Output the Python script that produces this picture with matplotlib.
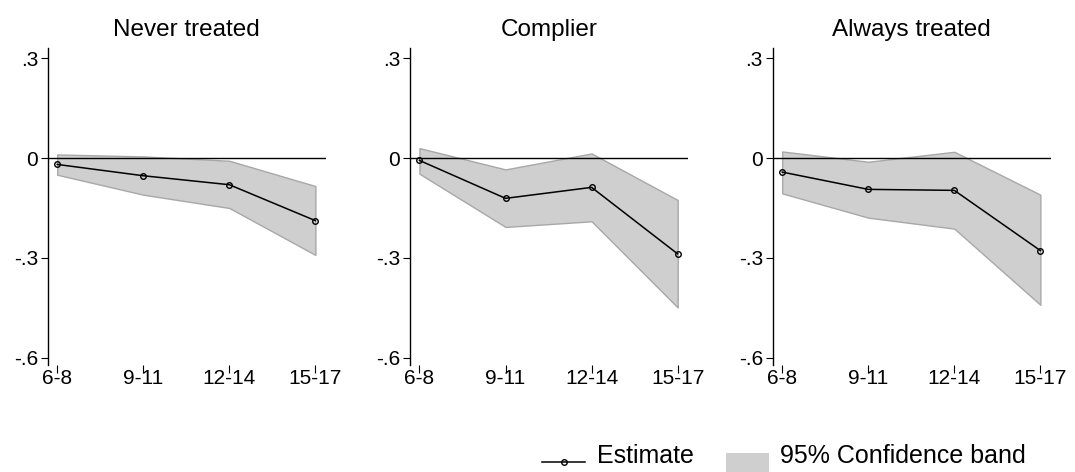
import numpy as np
import matplotlib
matplotlib.use('Agg')
import matplotlib.pyplot as plt
from matplotlib.lines import Line2D
from matplotlib.patches import Patch
from matplotlib.legend_handler import HandlerLine2D, HandlerPatch

plt.rcParams['font.family'] = ['Liberation Sans', 'DejaVu Sans']

age_groups = ['6-8', '9-11', '12-14', '15-17']
panel_titles = ['Never treated', 'Complier', 'Always treated']

never_est = [-0.019, -0.053, -0.080, -0.188]
never_hi = [0.011, 0.005, -0.008, -0.084]
never_lo = [-0.050, -0.110, -0.150, -0.291]

complier_est = [-0.007, -0.121, -0.088, -0.288]
complier_hi = [0.030, -0.034, 0.014, -0.126]
complier_lo = [-0.047, -0.207, -0.190, -0.449]

always_est = [-0.042, -0.094, -0.097, -0.278]
always_hi = [0.020, -0.011, 0.019, -0.110]
always_lo = [-0.106, -0.179, -0.212, -0.441]

panels = [
    (never_est, never_lo, never_hi),
    (complier_est, complier_lo, complier_hi),
    (always_est, always_lo, always_hi),
]


# legend keys sit lower than the text centre, like Stata's
class LowLine(HandlerLine2D):
    def create_artists(self, legend, orig_handle, xdescent, ydescent, width, height, fontsize, trans):
        s = 6.4
        return super().create_artists(legend, orig_handle, xdescent, ydescent + s,
                                      width, height - s, fontsize, trans)


class LowPatch(HandlerPatch):
    def create_artists(self, legend, orig_handle, xdescent, ydescent, width, height, fontsize, trans):
        return super().create_artists(legend, orig_handle, xdescent, ydescent + 7.2,
                                      width, height, fontsize, trans)


fig = plt.figure(figsize=(10.75, 4.72), dpi=100)
lefts = [0.0444, 0.3814, 0.7188]
x = np.arange(len(age_groups))

for left, title, (est, lo, hi) in zip(lefts, panel_titles, panels):
    ax = fig.add_axes([left, 0.2267, 0.2586, 0.6716])
    ax.fill_between(x, lo, hi, facecolor='#cfcfcf', edgecolor='#a8a8a8', linewidth=1.0, zorder=1)
    ax.axhline(0, color='black', linewidth=1.0, zorder=2)
    ax.plot(x, est, color='black', linewidth=1.1, marker='o', markersize=4,
            markerfacecolor='none', markeredgecolor='black', markeredgewidth=1.0, zorder=3)
    ax.set_xlim(-0.11, 3.12)
    ax.set_ylim(-0.622, 0.331)
    ax.set_yticks([0.3, 0, -0.3, -0.6])
    ax.set_yticklabels(['.3', '0', '-.3', '-.6'])
    ax.set_xticks(x)
    ax.set_xticklabels(age_groups)
    for s in ['top', 'right', 'bottom']:
        ax.spines[s].set_visible(False)
    ax.spines['left'].set_linewidth(1.0)
    ax.tick_params(axis='y', length=5, width=0.8, pad=2, labelsize=15)
    ax.tick_params(axis='x', length=6, width=0.8, pad=-3, labelsize=15)
    ax.set_title(title, fontsize=17.5, pad=9)

handles = [
    Line2D([], [], color='black', linewidth=1.1, marker='o', markersize=4,
           markerfacecolor='none', markeredgewidth=1.0),
    Patch(facecolor='#cfcfcf', edgecolor='none'),
]
fig.legend(handles, ['Estimate', '95% Confidence band'], loc='lower left',
           bbox_to_anchor=(0.4835, -0.039), ncol=2, frameon=False, fontsize=18,
           handlelength=1.72, handleheight=1.0, handletextpad=0.45, columnspacing=1.3,
           handler_map={Line2D: LowLine(), Patch: LowPatch()})

fig.savefig('out.png', dpi=100)
